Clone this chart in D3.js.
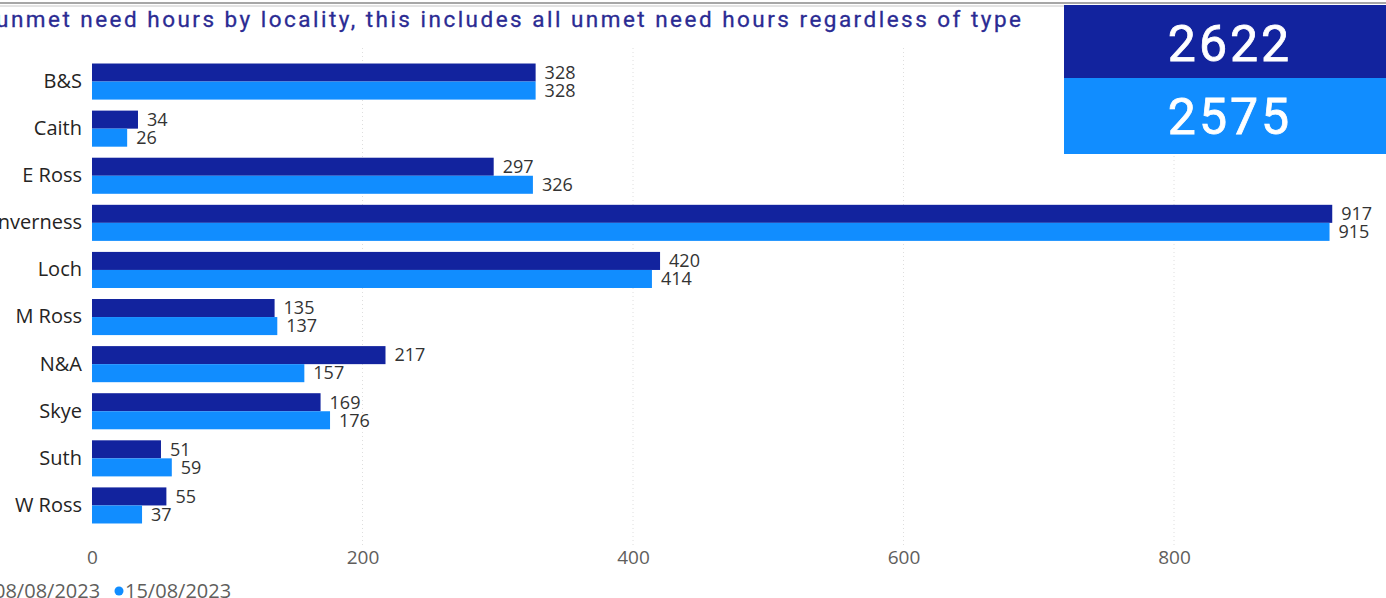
<!DOCTYPE html>
<html>
<head>
<meta charset="utf-8">
<script src="https://cdn.jsdelivr.net/npm/d3@7"></script>
<style>
  body { margin: 0; background: #fff; overflow: hidden; }
  svg { display: block; font-family: "Open Sans", "DejaVu Sans", sans-serif; }
</style>
</head>
<body>
<svg id="chart" width="1386" height="598"></svg>
<script>
const localities = ["B&S", "Caith", "E Ross", "Inverness", "Loch", "M Ross", "N&A", "Skye", "Suth", "W Ross"];
const week1 = [328, 34, 297, 917, 420, 135, 217, 169, 51, 55];
const week2 = [328, 26, 326, 915, 414, 137, 157, 176, 59, 37];
const seriesNames = ["08/08/2023", "15/08/2023"];
const xTicks = [0, 200, 400, 600, 800];
const totals = [2622, 2575];
const title = "unmet need hours by locality, this includes all unmet need hours regardless of type";

const colors = ["#12239E", "#118DFF"];
const svg = d3.select("#chart");

const data = localities.map((name, i) => ({ name, vals: [week1[i], week2[i]] }));

const x = d3.scaleLinear().domain([0, 800]).range([92, 1174]);
const y = d3.scaleBand()
    .domain(localities)
    .range([58, 529])
    .paddingInner(0.234)
    .paddingOuter(0.117);
const sub = d3.scaleBand().domain([0, 1]).range([0, y.bandwidth()]);

// top rule
svg.append("line").attr("x1", 0).attr("x2", 1386).attr("y1", 3).attr("y2", 3)
    .attr("stroke", "#8a8a8a").attr("stroke-width", 1.5);
svg.append("line").attr("x1", 0).attr("x2", 1386).attr("y1", 6).attr("y2", 6)
    .attr("stroke", "#c8c8c8").attr("stroke-width", 1);

// title
svg.append("text")
    .attr("x", -4).attr("y", 27)
    .attr("font-family", "Roboto, sans-serif")
    .attr("font-size", 22.5)
    .attr("fill", "#2b2b93")
    .attr("stroke", "#2b2b93")
    .attr("stroke-width", 0.3)
    .attr("textLength", 1025)
    .attr("lengthAdjust", "spacing")
    .text(title);

// gridlines
svg.append("g").selectAll("line")
    .data(xTicks.filter(d => d > 0))
    .join("line")
    .attr("x1", d => x(d)).attr("x2", d => x(d))
    .attr("y1", 48).attr("y2", 545)
    .attr("stroke", "#dedede")
    .attr("stroke-dasharray", "1,3");

// x axis
const gx = svg.append("g")
    .attr("transform", "translate(0,557)")
    .call(d3.axisBottom(x).tickValues(xTicks).tickSize(0).tickPadding(0));
gx.select(".domain").remove();
gx.selectAll("text")
    .attr("font-family", "Open Sans, sans-serif")
    .attr("font-size", 19)
    .attr("fill", "#605E5C")
    .attr("dy", "0.35em");

// y axis
const gy = svg.append("g")
    .attr("transform", "translate(82,0)")
    .call(d3.axisLeft(y).tickSize(0).tickPadding(0));
gy.select(".domain").remove();
gy.selectAll("text")
    .attr("font-family", "Open Sans, sans-serif")
    .attr("font-size", 20)
    .attr("fill", "#252423");

// bars
const rows = svg.append("g").selectAll("g")
    .data(data)
    .join("g")
    .attr("transform", d => `translate(0,${y(d.name)})`);

rows.selectAll("rect")
    .data(d => d.vals)
    .join("rect")
    .attr("x", x(0))
    .attr("y", (v, i) => sub(i))
    .attr("width", v => x(v) - x(0))
    .attr("height", sub.bandwidth())
    .attr("fill", (v, i) => colors[i]);

rows.selectAll("text")
    .data(d => d.vals)
    .join("text")
    .attr("x", v => x(v) + 9)
    .attr("y", (v, i) => sub(i) + sub.bandwidth() / 2)
    .attr("dy", "0.35em")
    .attr("font-family", "Open Sans, sans-serif")
    .attr("font-size", 18)
    .attr("fill", "#333333")
    .text(v => v);

// total cards
const cards = svg.append("g").selectAll("g")
    .data(totals)
    .join("g")
    .attr("transform", (d, i) => `translate(1064,${5 + i * 73})`);
cards.append("rect")
    .attr("width", 322).attr("height", 76)
    .attr("fill", (d, i) => colors[i]);
cards.append("text")
    .attr("x", 166).attr("y", 38)
    .attr("dy", "0.36em")
    .attr("text-anchor", "middle")
    .attr("font-family", "Roboto, sans-serif")
    .attr("font-size", 50)
    .attr("fill", "#fff")
    .attr("stroke", "#fff")
    .attr("stroke-width", 0.8)
    .attr("letter-spacing", 3)
    .text(d => d);

// legend
const legend = svg.append("g").attr("transform", "translate(0,591)");
const lx = [-12, 119];
seriesNames.forEach((s, i) => {
    legend.append("circle").attr("cx", lx[i]).attr("cy", 0).attr("r", 4.5).attr("fill", colors[i]);
    legend.append("text")
        .attr("x", lx[i] + 6).attr("y", 0).attr("dy", "0.35em")
        .attr("font-family", "Open Sans, sans-serif")
        .attr("font-size", 20)
        .attr("fill", "#605E5C")
        .text(s);
});
</script>
</body>
</html>
